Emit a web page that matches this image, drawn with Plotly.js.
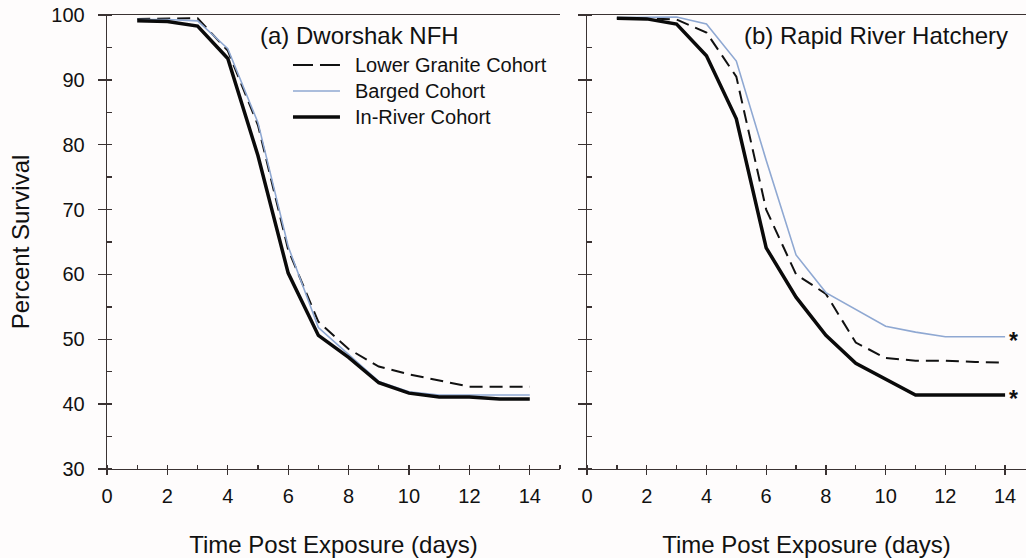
<!DOCTYPE html>
<html>
<head>
<meta charset="utf-8">
<script src="https://cdn.plot.ly/plotly-3.0.1.min.js"></script>
<style>
  html, body { margin: 0; padding: 0; background: #fefcfc; }
  #chart { width: 1026px; height: 558px; }
</style>
</head>
<body>
<div id="chart"></div>
<script>
// Days post exposure
const days = [1, 2, 3, 4, 5, 6, 7, 8, 9, 10, 11, 12, 13, 14];

// (a) Dworshak NFH
const dworLowerGranite = [99.4, 99.4, 99.5, 94.5, 83.0, 63.8, 52.7, 48.5, 45.8, 44.6, 43.6, 42.7, 42.7, 42.7];
const dworBarged       = [99.3, 99.3, 99.1, 94.8, 83.4, 64.3, 51.8, 47.6, 43.5, 41.9, 41.4, 41.4, 41.4, 41.4];
const dworInRiver      = [99.1, 99.0, 98.3, 93.3, 78.3, 60.2, 50.6, 47.2, 43.3, 41.7, 41.1, 41.1, 40.8, 40.8];

// (b) Rapid River Hatchery
const rapidLowerGranite = [99.5, 99.5, 99.3, 97.3, 90.5, 70.0, 60.0, 57.0, 49.5, 47.1, 46.7, 46.7, 46.5, 46.4];
const rapidBarged       = [99.6, 99.6, 99.7, 98.6, 92.9, 77.6, 63.0, 57.2, 54.6, 52.0, 51.1, 50.4, 50.4, 50.4];
const rapidInRiver      = [99.5, 99.4, 98.6, 93.7, 84.0, 64.1, 56.5, 50.6, 46.3, 43.8, 41.4, 41.4, 41.4, 41.4];

const seriesNames = ["Lower Granite Cohort", "Barged Cohort", "In-River Cohort"];
const panelTitles = ["(a) Dworshak NFH", "(b) Rapid River Hatchery"];
const xTitle = "Time Post Exposure (days)";
const yTitle = "Percent Survival";

const FONT = "Liberation Sans, Arial, sans-serif";
const AXIS = "#3a3232";
const TXT = "#111";
const lgStyle = {color: "#111", width: 2, dash: "13px,7px"};
const bgStyle = {color: "#8fa8d2", width: 1.6};
const irStyle = {color: "#0a0a0a", width: 3.5};
const styles = [lgStyle, bgStyle, irStyle];

function tr(y, name, line, xa, ya) {
  return {x: days, y: y, name: name, type: "scatter", mode: "lines",
          line: line, xaxis: xa, yaxis: ya, showlegend: false, hoverinfo: "skip"};
}

const data = [
  tr(dworLowerGranite, seriesNames[0], lgStyle, "x", "y"),
  tr(dworBarged, seriesNames[1], bgStyle, "x", "y"),
  tr(dworInRiver, seriesNames[2], irStyle, "x", "y"),
  tr(rapidLowerGranite, seriesNames[0], lgStyle, "x2", "y2"),
  tr(rapidBarged, seriesNames[1], bgStyle, "x2", "y2"),
  tr(rapidInRiver, seriesNames[2], irStyle, "x2", "y2")
];

const xCommon = {
  showgrid: false, zeroline: false, showline: true, linecolor: AXIS, linewidth: 1.3,
  mirror: true, ticks: "outside", ticklen: 5, tickwidth: 1.3, tickcolor: AXIS,
  dtick: 2, tick0: 0, ticklabelstandoff: 4,
  minor: {ticks: "inside", dtick: 1, ticklen: 4, tickwidth: 1.3, tickcolor: AXIS},
  tickfont: {family: FONT, size: 20, color: TXT},
  title: {text: xTitle, font: {family: FONT, size: 24, color: TXT}, standoff: 30},
  fixedrange: true
};
const yCommon = {
  range: [30, 100], showgrid: false, zeroline: false, showline: true, linecolor: AXIS,
  linewidth: 1.3, ticks: "outside", ticklen: 8, tickwidth: 1.3, tickcolor: AXIS,
  dtick: 10, tick0: 0,
  minor: {ticks: "inside", dtick: 5, ticklen: 5, tickwidth: 1.3, tickcolor: AXIS},
  fixedrange: true
};

// Legend (drawn inside panel a)
const legendRows = [0.8899, 0.8326, 0.7753];   // y-domain positions of rows
const legendLineX = [0.4106, 0.5143];
const legendTextX = 0.543;

const shapes = seriesNames.map((n, i) => ({
  type: "line", xref: "x domain", yref: "y domain",
  x0: legendLineX[0], x1: legendLineX[1], y0: legendRows[i], y1: legendRows[i],
  line: Object.assign({}, styles[i], i === 0 ? {dash: "20px,7px"} : {})
}));

const annotations = seriesNames.map((n, i) => ({
  text: n, xref: "x domain", yref: "y domain", x: legendTextX, y: legendRows[i],
  xanchor: "left", yanchor: "middle", showarrow: false,
  font: {family: FONT, size: 20, color: TXT}
})).concat([
  {text: panelTitles[0], xref: "x domain", yref: "y domain", x: 0.333, y: 0.954,
   xanchor: "left", yanchor: "middle", showarrow: false,
   font: {family: FONT, size: 24, color: TXT}},
  {text: panelTitles[1], xref: "x2 domain", yref: "y2 domain", x: 0.352, y: 0.954,
   xanchor: "left", yanchor: "middle", showarrow: false,
   font: {family: FONT, size: 24, color: TXT}},
  {text: "<b>*</b>", xref: "x2", yref: "y2", x: 14.27, y: rapidBarged[rapidBarged.length - 1],
   yshift: -4, xanchor: "center", yanchor: "middle", showarrow: false,
   font: {family: FONT, size: 23, color: TXT}},
  {text: "<b>*</b>", xref: "x2", yref: "y2", x: 14.27, y: rapidInRiver[rapidInRiver.length - 1],
   yshift: -4, xanchor: "center", yanchor: "middle", showarrow: false,
   font: {family: FONT, size: 23, color: TXT}}
]);

const layout = {
  width: 1026, height: 558,
  margin: {l: 107, r: 0, t: 15, b: 89, pad: 0},
  paper_bgcolor: "#fefcfc", plot_bgcolor: "#fefcfc",
  font: {family: FONT, color: TXT},
  showlegend: false,
  xaxis: Object.assign({}, xCommon, {domain: [0, 0.4929], range: [0, 15], anchor: "y"}),
  xaxis2: Object.assign({}, xCommon, {domain: [0.5223, 1], range: [0, 14.7], anchor: "y2"}),
  yaxis: Object.assign({}, yCommon, {anchor: "x",
    tickfont: {family: FONT, size: 20, color: TXT}, ticklabelstandoff: 9,
    title: {text: yTitle, font: {family: FONT, size: 24, color: TXT}, standoff: 15}}),
  yaxis2: Object.assign({}, yCommon, {anchor: "x2", showticklabels: false}),
  yaxis3: {range: [30, 100], overlaying: "y", anchor: "x", side: "right",
    showgrid: false, zeroline: false, showline: true, linecolor: AXIS, linewidth: 1.3,
    ticks: "inside", ticklen: 6, tickwidth: 1.3, tickcolor: AXIS, dtick: 5, tick0: 0,
    showticklabels: false, fixedrange: true},
  shapes: shapes,
  annotations: annotations
};

Plotly.newPlot("chart", data, layout, {displayModeBar: false, staticPlot: true});
</script>
</body>
</html>
